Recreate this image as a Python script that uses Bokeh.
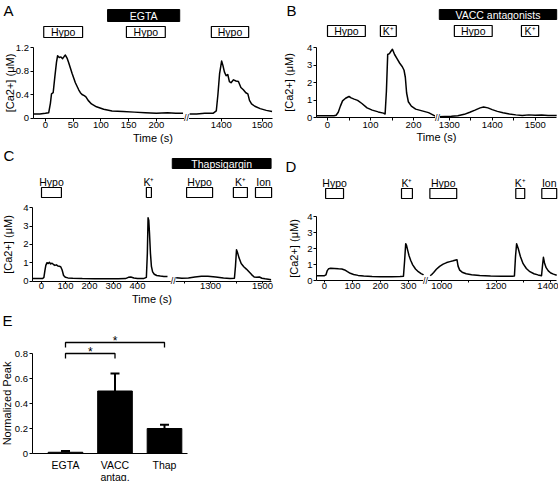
import numpy as np
from bokeh.plotting import figure
from bokeh.models import (FixedTicker, Label, Whisker, ColumnDataSource,
                          Range1d, TeeHead)
from bokeh.layouts import column, row
from bokeh.embed import file_html
from bokeh.resources import INLINE
from bokeh.core.properties import value

FONT = "Liberation Sans"
CA_LABEL = "[Ca2+] (\u03bcM)"
KPLUS = "K\u207a"

# ---------------- data ----------------
# Panel A (EGTA)
a_t1 = [-22, -10, 0, 6, 9, 11, 14, 17, 20, 22, 25, 28, 31, 34, 36, 39, 42, 45, 48, 51,
        54, 57, 60, 63, 66, 70, 73, 77, 83, 92, 105, 120, 140, 160, 180, 200, 220, 235, 248]
a_v1 = [0.07, 0.07, 0.08, 0.09, 0.25, 0.41, 0.43, 0.7, 0.95, 1.06, 1.03, 1.04, 1.01, 1.05,
        1.07, 1.02, 0.94, 0.85, 0.76, 0.68, 0.6, 0.54, 0.48, 0.43, 0.4, 0.38, 0.36, 0.3,
        0.24, 0.19, 0.15, 0.12, 0.11, 0.1, 0.09, 0.08, 0.09, 0.08, 0.08]
a_t2 = [1323, 1340, 1360, 1380, 1388, 1392, 1396, 1401, 1404, 1408, 1412, 1416, 1420, 1424,
        1430, 1436, 1442, 1448, 1454, 1460, 1465, 1469, 1474, 1482, 1495, 1510, 1524]
a_v2 = [0.07, 0.07, 0.08, 0.08, 0.12, 0.4, 0.75, 0.97, 0.9, 0.78, 0.72, 0.74, 0.62, 0.6,
        0.65, 0.63, 0.62, 0.52, 0.48, 0.43, 0.41, 0.3, 0.24, 0.2, 0.16, 0.13, 0.11]
a_xticks = [0, 50, 100, 150, 200, 1400, 1500]
a_xlabels = [0, 50, 100, 150, 200, 1400, 1500]
a_yticks = [0, 0.4, 0.8, 1.2]
a_stims = [("Hypo", -3, 67), ("Hypo", 146, 216), ("Hypo", 1376, 1467)]
a_drug = ("EGTA", 112, 242)

# Panel B (VACC antagonists)
b_t1 = [-26, 0, 15, 20, 25, 30, 35, 42, 50, 55, 62, 70, 80, 92, 104, 118, 130, 134, 137,
        140, 144, 148, 151, 156, 162, 168, 174, 178, 181, 184, 188, 195, 205, 220, 235, 245, 253]
b_v1 = [0.1, 0.1, 0.1, 0.13, 0.3, 0.65, 0.95, 1.1, 1.2, 1.12, 1.05, 0.98, 0.8, 0.55, 0.42,
        0.32, 0.25, 0.2, 1.5, 3.6, 3.65, 3.8, 3.9, 3.6, 3.35, 3.1, 2.9, 2.7, 2.3, 1.4, 0.9,
        0.65, 0.48, 0.38, 0.28, 0.15, 0.05]
b_t2 = [1275, 1290, 1305, 1320, 1335, 1348, 1360, 1372, 1380, 1390, 1400, 1412, 1425, 1440,
        1455, 1470, 1485, 1500, 1515, 1530, 1550]
b_v2 = [0.05, 0.06, 0.07, 0.1, 0.18, 0.3, 0.42, 0.55, 0.6, 0.55, 0.45, 0.35, 0.27, 0.2,
        0.15, 0.12, 0.15, 0.13, 0.14, 0.12, 0.12]
b_xticks = [0, 50, 100, 150, 200, 1300, 1350, 1400, 1450, 1500]
b_xlabels = [0, 100, 200, 1300, 1400, 1500]
b_yticks = [0, 1, 2, 3, 4]
b_stims = [("Hypo", 0, 88), (KPLUS, 123, 160), ("Hypo", 1312, 1400), (KPLUS, 1468, 1508)]
b_drug = ("VACC antagonists", 1277, 1550)

# Panel C (Thapsigargin)
c_t1 = [-38, -10, 5, 10, 14, 18, 23, 28, 33, 38, 44, 50, 56, 62, 68, 74, 80, 86, 92, 100,
        110, 130, 170, 220, 270, 320, 350, 362, 372, 385, 400, 425, 437, 441, 444, 447, 450,
        454, 458, 463, 470, 480, 495, 510, 525]
c_v1 = [0.13, 0.13, 0.14, 0.2, 0.55, 0.85, 1.0, 0.95, 1.02, 0.93, 0.97, 0.9, 0.85, 0.88,
        0.82, 0.8, 0.78, 0.6, 0.3, 0.2, 0.17, 0.15, 0.13, 0.12, 0.12, 0.12, 0.13, 0.2, 0.22,
        0.16, 0.14, 0.13, 0.2, 1.5, 3.45, 3.3, 2.6, 1.5, 0.8, 0.5, 0.37, 0.3, 0.27, 0.25, 0.24]
c_t2 = [1168, 1190, 1215, 1240, 1265, 1290, 1320, 1350, 1375, 1392, 1396, 1400, 1404, 1410,
        1418, 1428, 1438, 1448, 1458, 1468, 1478, 1488, 1498, 1510, 1522, 1533]
c_v2 = [0.18, 0.15, 0.17, 0.22, 0.26, 0.26, 0.22, 0.16, 0.14, 0.15, 0.8, 1.7, 1.55, 1.25,
        0.95, 0.78, 0.65, 0.5, 0.35, 0.22, 0.2, 0.22, 0.15, 0.12, 0.1, 0.07]
c_xticks = [0, 100, 200, 300, 400, 1200, 1300, 1400, 1500]
c_xlabels = [0, 100, 200, 300, 400, 1300, 1500]
c_yticks = [0, 1, 2, 3, 4]
c_stims = [("Hypo", 0, 83), (KPLUS, 437, 458), ("Hypo", 1208, 1308), (KPLUS, 1388, 1442),
           ("Ion", 1473, 1535)]
c_drug = ("Thapsigargin", 1153, 1533)

# Panel D (control)
d_t1 = [-30, 0, 5, 10, 15, 22, 35, 50, 62, 72, 82, 92, 104, 120, 140, 170, 200, 240, 270,
        282, 286, 290, 293, 297, 302, 308, 315, 325, 335, 345, 354]
d_v1 = [0.3, 0.3, 0.35, 0.62, 0.74, 0.76, 0.75, 0.73, 0.72, 0.66, 0.55, 0.45, 0.38, 0.32,
        0.28, 0.25, 0.24, 0.24, 0.25, 0.27, 1.2, 2.3, 2.2, 1.9, 1.55, 1.25, 0.98, 0.72, 0.55,
        0.43, 0.35]
d_t2 = [957, 962, 970, 980, 992, 1005, 1018, 1030, 1042, 1052, 1056, 1060, 1066, 1075, 1090,
        1110, 1140, 1180, 1220, 1260, 1268, 1272, 1276, 1282, 1290, 1300, 1312, 1325, 1340,
        1355, 1368, 1372, 1375, 1379, 1385, 1393, 1402, 1412, 1424]
d_v2 = [0.3, 0.36, 0.5, 0.7, 0.88, 1.02, 1.12, 1.18, 1.23, 1.28, 1.3, 0.9, 0.65, 0.52, 0.42,
        0.36, 0.31, 0.28, 0.27, 0.27, 0.28, 1.5, 2.3, 2.0, 1.5, 1.05, 0.75, 0.55, 0.42, 0.35,
        0.3, 1.0, 1.45, 1.1, 0.8, 0.6, 0.47, 0.4, 0.33]
d_xticks = [0, 100, 200, 300, 1000, 1100, 1200, 1300, 1400]
d_xlabels = [0, 100, 200, 300, 1000, 1200, 1400]
d_yticks = [0, 1, 2, 3, 4]
d_stims = [("Hypo", 4, 68), (KPLUS, 275, 314), ("Hypo", 956, 1055), (KPLUS, 1273, 1306),
           ("Ion", 1369, 1424)]

# Panel E (summary)
e_groups = ["EGTA", "VACC\nantag.", "Thap"]
e_mean = [0.01, 0.50, 0.20]
e_sem = [0.01, 0.14, 0.03]
e_yticks = [0, 0.2, 0.4, 0.6, 0.8]
e_pairs = [(1, 2, 0.80), (1, 3, 0.888)]


# ---------------- helpers ----------------
class Geo:
    """Broken time axis: two segments with own px/s, mapped to one axis coordinate."""
    def __init__(self, x0, s1, tref2, xref2, s2, ybot, yscale, split=700):
        self.x0, self.s1, self.tref2, self.xref2, self.s2 = x0, s1, tref2, xref2, s2
        self.ybot, self.yscale, self.split = ybot, yscale, split

    def u(self, t):
        t = np.asarray(t, dtype=float)
        px = np.where(t < self.split, self.x0 + self.s1 * t,
                      self.xref2 + self.s2 * (t - self.tref2))
        return np.round((px - self.x0) / self.s1, 4)

    def ux(self, px):
        return (px - self.x0) / self.s1

    def vy(self, py):
        return (self.ybot - py) / self.yscale


def make_fig(w, h, xr, yr, yaxis_at):
    p = figure(width=w, height=h, x_range=Range1d(*xr), y_range=Range1d(*yr),
               output_backend="svg", toolbar_location=None, title=None, min_border=0)
    p.outline_line_color = None
    p.grid.visible = False
    p.background_fill_color = "white"
    p.border_fill_color = "white"
    for ax in (p.xaxis[0], p.yaxis[0]):
        ax.axis_line_color = "black"
        ax.axis_line_width = 1
        ax.major_tick_line_color = "black"
        ax.major_tick_out = 3
        ax.major_tick_in = 0
        ax.minor_tick_line_color = None
        ax.major_label_text_font = FONT
        ax.major_label_text_font_size = "9.5px"
        ax.major_label_text_color = "black"
        ax.axis_label_text_font = FONT
        ax.axis_label_text_font_size = "11px"
        ax.axis_label_text_font_style = "normal"
        ax.axis_label_text_color = "black"
    p.xaxis[0].fixed_location = 0
    p.yaxis[0].fixed_location = yaxis_at
    p.xaxis[0].major_label_standoff = 1
    p.xaxis[0].axis_label_standoff = 0
    p.yaxis[0].major_label_standoff = 1
    return p


def trace_panel(geo, w, h, fig_px, ax_px, segs, xticks, xlabels, yticks,
                ylab_standoff, xlabel):
    fl, fr, ft, fb = fig_px
    al, ar = ax_px
    p = make_fig(w, h, (geo.ux(fl), geo.ux(fr)), (geo.vy(fb), geo.vy(ft)), geo.ux(al))
    for t, v in segs:
        p.line(geo.u(t), v, line_color="black", line_width=1.5, line_join="round")
    xt = [float(x) for x in geo.u(xticks)]
    p.xaxis[0].ticker = FixedTicker(ticks=xt)
    p.xaxis[0].major_label_overrides = {
        x: (str(t) if t in xlabels else "") for x, t in zip(xt, xticks)}
    p.xaxis[0].bounds = (geo.ux(al), geo.ux(ar))
    p.yaxis[0].ticker = FixedTicker(ticks=yticks)
    p.yaxis[0].bounds = (0, max(yticks))
    p.yaxis[0].axis_label = CA_LABEL
    p.yaxis[0].axis_label_standoff = ylab_standoff
    if xlabel:
        p.xaxis[0].axis_label = xlabel
    return p


def add_break(p, x):
    p.add_layout(Label(x=x, y=0, text="//", text_font=FONT,
                       text_font_size="9px", text_align="center",
                       text_baseline="middle", background_fill_color="white",
                       text_color="black"))


def add_letter(p, x, y, text):
    p.text(x=[x], y=[y], text=[text], text_font=value(FONT), text_font_size="15px",
           text_align="left", text_baseline="top", text_color="black")


def add_stims(p, geo, stims, yb, yt, ylab):
    left = geo.u([s[1] for s in stims])
    right = geo.u([s[2] for s in stims])
    n = len(stims)
    src = ColumnDataSource(dict(left=left, right=right, bottom=[yb] * n, top=[yt] * n,
                                xc=(left + right) / 2, yl=[ylab] * n,
                                text=[s[0] for s in stims]))
    p.quad(left="left", right="right", bottom="bottom", top="top", source=src,
           fill_color="white", line_color="black", line_width=1.2)
    p.text(x="xc", y="yl", text="text", source=src, text_font=value(FONT),
           text_font_size="10.5px", text_align="center", text_baseline="middle",
           text_color="black")


def add_drug(p, geo, drug, yb, yt):
    left = float(geo.u([drug[1]])[0])
    right = float(geo.u([drug[2]])[0])
    p.quad(left=[left], right=[right], bottom=[yb], top=[yt],
           fill_color="black", line_color="black")
    p.text(x=[(left + right) / 2], y=[(yb + yt) / 2], text=[drug[0]],
           text_font=value(FONT), text_font_size="10.5px", text_align="center",
           text_baseline="middle", text_color="white")


# ---------------- panel A ----------------
gA = Geo(x0=44.9, s1=0.555, tref2=1400, xref2=220.7, s2=0.41, ybot=117.5, yscale=58.75)
pA = trace_panel(gA, 278, 146, (0, 278, 0, 146), (32.5, 271.7),
                 [(a_t1, a_v1), (a_t2, a_v2)], a_xticks, a_xlabels, a_yticks, -3, "Time (s)")
pA.yaxis[0].major_label_overrides = {0: "0"}
add_drug(pA, gA, a_drug, gA.vy(21), gA.vy(9))
add_stims(pA, gA, a_stims, gA.vy(37), gA.vy(26), gA.vy(31.5))
add_break(pA, gA.ux(186))
add_letter(pA, gA.ux(3), gA.vy(1), "A")

# ---------------- panel B ----------------
gB = Geo(x0=327, s1=0.43, tref2=1300, xref2=448.7, s2=0.43, ybot=117, yscale=17.5)
pB = trace_panel(gB, 280, 146, (278, 558, 0, 146), (315.7, 555.7),
                 [(b_t1, b_v1), (b_t2, b_v2)], b_xticks, b_xlabels, b_yticks, 9, "Time (s)")
add_drug(pB, gB, b_drug, gB.vy(19), gB.vy(9))
add_stims(pB, gB, b_stims, gB.vy(36), gB.vy(25), gB.vy(30.5))
add_break(pB, gB.ux(437))
add_letter(pB, gB.ux(286), gB.vy(1), "B")

# ---------------- panel C ----------------
gC = Geo(x0=41, s1=0.24, tref2=1300, xref2=210, s2=0.26, ybot=280.5, yscale=18.33)
pC = trace_panel(gC, 278, 162, (0, 278, 146, 308), (32, 271),
                 [(c_t1, c_v1), (c_t2, c_v2)], c_xticks, c_xlabels, c_yticks, 6, "Time (s)")
pC.xaxis[0].major_tick_out = 2
pC.xaxis[0].major_label_standoff = 0
add_drug(pC, gC, c_drug, gC.vy(168), gC.vy(158))
add_stims(pC, gC, c_stims, gC.vy(197), gC.vy(187), gC.vy(181))
add_break(pC, gC.ux(172.7))
add_letter(pC, gC.ux(3), gC.vy(146), "C")

# ---------------- panel D ----------------
gD = Geo(x0=324, s1=0.28, tref2=1000, xref2=441.3, s2=0.271, ybot=280, yscale=16)
pD = trace_panel(gD, 280, 162, (278, 558, 146, 308), (316, 556),
                 [(d_t1, d_v1), (d_t2, d_v2)], d_xticks, d_xlabels, d_yticks, 4, None)
pD.xaxis[0].major_tick_out = 2
pD.xaxis[0].major_label_standoff = 0
add_stims(pD, gD, d_stims, gD.vy(198), gD.vy(188), gD.vy(182))
add_break(pD, gD.ux(425))
add_letter(pD, gD.ux(285), gD.vy(157), "D")

# ---------------- panel E ----------------
def ex(px):
    return 1 + (px - 65) / 49.5


def ey(py):
    return (453 - py) / 125


e_x = [1, 2, 3]
pE = make_fig(200, 173, (ex(0), ex(200)), (ey(481), ey(308)), ex(31.5))
pE.vbar(x=e_x, top=e_mean, width=0.7, fill_color="black", line_color="black")
e_src = ColumnDataSource(dict(x=e_x, lower=e_mean,
                              upper=[m + s for m, s in zip(e_mean, e_sem)]))
pE.add_layout(Whisker(base="x", lower="lower", upper="upper", source=e_src,
                      dimension="height", line_color="black", line_width=2,
                      upper_head=TeeHead(size=9, line_width=2, line_color="black"),
                      lower_head=None))
br_xs, br_ys, st_x, st_y = [], [], [], []
for a, b, h in e_pairs:
    br_xs.append([a, a, b, b])
    br_ys.append([h - 0.04, h, h, h - 0.04])
    st_x.append((a + b) / 2)
    st_y.append(h + 0.012)
pE.multi_line(br_xs, br_ys, line_color="black", line_width=1.3)
pE.text(x=st_x, y=st_y, text=["*"] * len(st_x), text_font=value(FONT),
        text_font_size="12px", text_align="center", text_baseline="middle",
        text_color="black")
pE.xaxis[0].ticker = FixedTicker(ticks=e_x)
pE.xaxis[0].major_label_overrides = {x: g for x, g in zip(e_x, e_groups)}
pE.xaxis[0].major_tick_line_color = None
pE.xaxis[0].major_label_text_font_size = "10.5px"
pE.xaxis[0].major_label_text_line_height = 1.0
pE.xaxis[0].major_label_standoff = 2
pE.xaxis[0].bounds = (ex(31.5), ex(187))
pE.yaxis[0].ticker = FixedTicker(ticks=e_yticks)
pE.yaxis[0].bounds = (0, 0.8)
pE.yaxis[0].axis_label = "Normalized Peak"
pE.yaxis[0].axis_label_standoff = -1
add_letter(pE, ex(2), ey(311), "E")

layout = column(row(pA, pB), row(pC, pD), row(pE))
open("out.html", "w").write(file_html(layout, INLINE))
